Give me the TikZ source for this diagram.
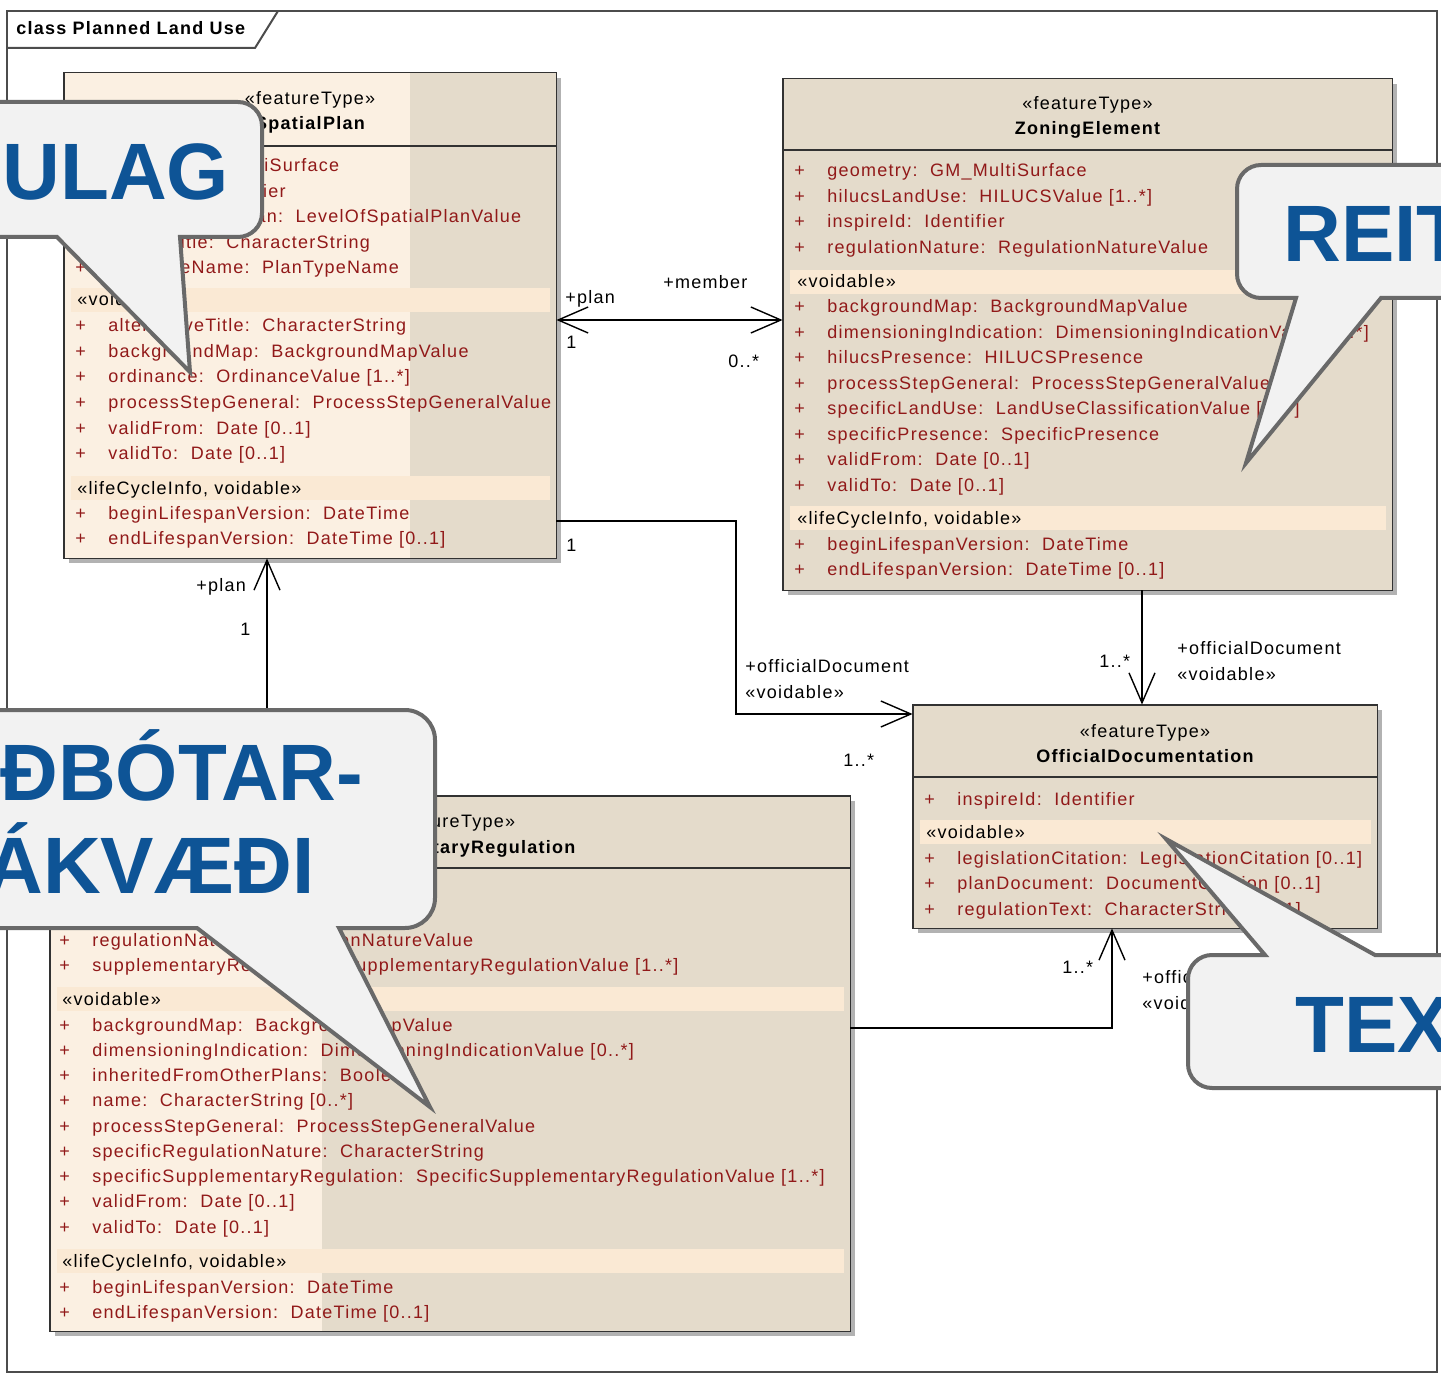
\documentclass[tikz,border=0pt]{standalone}
\usepackage{fontspec}
\setmainfont{Liberation Sans}
\newfontfamily\umlfont[LetterSpace=7]{Liberation Sans}
\usepackage{xcolor}
\usetikzlibrary{fit,arrows.meta,shadows}
\newcommand{\umlsize}{\fontsize{9}{11}\selectfont}
\newcommand{\attrmark}{\makebox[16.5pt][l]{+}}
\tikzstyle{attr} = [anchor=base west, inner sep=0pt, text=attr text, font=\umlfont\umlsize]
\tikzstyle{section} = [anchor=base west, inner sep=0pt, font=\umlfont\umlsize]
\tikzstyle{rolename} = [anchor=base west, inner sep=0pt, font=\umlfont\umlsize]
\tikzset{classbox/.style={fill=class area, draw=none, inner sep=0pt,
        drop shadow={shadow xshift=2.5pt, shadow yshift=-2.5pt, fill=black!30, opacity=1}},
    classline/.style={draw=class edge, line width=0.9pt},
    stereo/.style={anchor=base, inner sep=0pt, font=\umlfont\umlsize},
    classname/.style={anchor=base, inner sep=0pt, font=\umlfont\umlsize\bfseries},
    assoc/.style={draw=black, line width=0.7pt, >={Straight Barb[length=15pt,width=13pt]}},
    notebox/.style={fill=note area, draw=note edge, line width=2pt},
    notetext/.style={anchor=base west, inner sep=0pt, text=note text, font=\fontsize{40}{46}\selectfont\bfseries}}

\begin{document}
\begin{tikzpicture}[x=0.5pt, y=-0.5pt]
    % Definition of colours
    \definecolor{class area}{RGB}{228,219,203}
    \definecolor{light area}{RGB}{251,240,226}
    \definecolor{band area}{RGB}{250,233,212}
    \definecolor{class edge}{RGB}{50,50,50}
    \definecolor{attr text}{RGB}{145,25,25}
    \definecolor{note area}{RGB}{242,242,242}
    \definecolor{note edge}{RGB}{105,105,105}
    \definecolor{note text}{RGB}{14,84,150}
    \useasboundingbox (0,0) rectangle (1441,1375);
    \clip (0,0) rectangle (1441,1375);
    %
    % Frame
    \draw[black!70, line width=1pt] (7,11) rectangle (1437,1372);
    \draw[black!70, line width=1pt] (7,48) -- (255,48) -- (278,11);
    \node[section, font=\umlfont\umlsize\bfseries] (title) at (16,35) {class Planned Land Use};
    %
    % SpatialPlan
    \node[classbox, fit={(64,73) (556,558)}] (plan) {};
    \fill[light area] (plan.north west) rectangle (410,558);
    \fill[band area] (71,288) rectangle (550,312);
    \fill[band area] (71,476) rectangle (550,500);
    \draw[classline] (plan.north west) rectangle (plan.south east);
    \draw[classline] (plan.west |- 0,146) -- (plan.east |- 0,146);
    \node[stereo] (plan-st) at (plan.north |- 0,105) {«featureType»};
    \node[classname] (plan-nm) at (plan.north |- 0,130) {SpatialPlan};
    \foreach \txt [count=\i from 0] in {{extent:~~GM\_MultiSurface}, {inspireId:~~Identifier},
        {levelOfSpatialPlan:~~LevelOfSpatialPlanValue}, {officialTitle:~~CharacterString},
        {planTypeName:~~PlanTypeName}}
        \node[attr] (plan-a\i) at (75,172+25.5*\i) {\attrmark\txt};
    \node[section] (plan-s1) at (77,306) {«voidable»};
    \foreach \txt [count=\i from 0] in {{alternativeTitle:~~CharacterString}, {backgroundMap:~~BackgroundMapValue},
        {ordinance:~~OrdinanceValue [1..*]}, {processStepGeneral:~~ProcessStepGeneralValue},
        {validFrom:~~Date [0..1]}, {validTo:~~Date [0..1]}}
        \node[attr] (plan-b\i) at (75,332+25.5*\i) {\attrmark\txt};
    \node[section] (plan-s2) at (77,494) {«lifeCycleInfo, voidable»};
    \foreach \txt [count=\i from 0] in {{beginLifespanVersion:~~DateTime}, {endLifespanVersion:~~DateTime [0..1]}}
        \node[attr] (plan-c\i) at (75,519+25.5*\i) {\attrmark\txt};
    %
    % ZoningElement
    \node[classbox, fit={(783,79) (1392,590)}] (zone) {};
    \fill[band area] (790,270) rectangle (1386,294);
    \fill[band area] (790,506) rectangle (1386,530);
    \draw[classline] (zone.north west) rectangle (zone.south east);
    \draw[classline] (zone.west |- 0,150) -- (zone.east |- 0,150);
    \node[stereo] (zone-st) at (zone.north |- 0,110) {«featureType»};
    \node[classname] (zone-nm) at (zone.north |- 0,135) {ZoningElement};
    \foreach \txt [count=\i from 0] in {{geometry:~~GM\_MultiSurface}, {hilucsLandUse:~~HILUCSValue [1..*]},
        {inspireId:~~Identifier}, {regulationNature:~~RegulationNatureValue}}
        \node[attr] (zone-a\i) at (794,177+25.5*\i) {\attrmark\txt};
    \node[section] (zone-s1) at (797,288) {«voidable»};
    \foreach \txt [count=\i from 0] in {{backgroundMap:~~BackgroundMapValue},
        {dimensioningIndication:~~DimensioningIndicationValue [0..*]}, {hilucsPresence:~~HILUCSPresence},
        {processStepGeneral:~~ProcessStepGeneralValue}, {specificLandUse:~~LandUseClassificationValue [0..*]},
        {specificPresence:~~SpecificPresence}, {validFrom:~~Date [0..1]}, {validTo:~~Date [0..1]}}
        \node[attr] (zone-b\i) at (794,313+25.5*\i) {\attrmark\txt};
    \node[section] (zone-s2) at (797,524) {«lifeCycleInfo, voidable»};
    \foreach \txt [count=\i from 0] in {{beginLifespanVersion:~~DateTime}, {endLifespanVersion:~~DateTime [0..1]}}
        \node[attr] (zone-c\i) at (794,550+25.5*\i) {\attrmark\txt};
    %
    % OfficialDocumentation
    \node[classbox, fit={(913,705) (1377,928)}] (doc) {};
    \fill[band area] (920,820) rectangle (1371,844);
    \draw[classline] (doc.north west) rectangle (doc.south east);
    \draw[classline] (doc.west |- 0,777) -- (doc.east |- 0,777);
    \node[stereo] (doc-st) at (doc.north |- 0,737) {«featureType»};
    \node[classname] (doc-nm) at (doc.north |- 0,762) {OfficialDocumentation};
    \node[attr] (doc-a0) at (924,805) {\attrmark inspireId:~~Identifier};
    \node[section] (doc-s1) at (926,838) {«voidable»};
    \foreach \txt [count=\i from 0] in {{legislationCitation:~~LegislationCitation [0..1]},
        {planDocument:~~DocumentCitation [0..1]}, {regulationText:~~CharacterString [0..1]}}
        \node[attr] (doc-b\i) at (924,864+25.5*\i) {\attrmark\txt};
    %
    % SupplementaryRegulation
    \node[classbox, fit={(50,796) (850,1331)}] (supp) {};
    \fill[light area] (supp.north west) rectangle (322,1331);
    \fill[band area] (57,987) rectangle (844,1011);
    \fill[band area] (57,1249) rectangle (844,1273);
    \draw[classline] (supp.north west) rectangle (supp.south east);
    \draw[classline] (supp.west |- 0,868) -- (supp.east |- 0,868);
    \node[stereo] (supp-st) at (supp.north |- 0,827) {«featureType»};
    \node[classname] (supp-nm) at (supp.north |- 0,853) {SupplementaryRegulation};
    \foreach \txt [count=\i from 0] in {{regulationNature:~~RegulationNatureValue},
        {supplementaryRegulation:~~SupplementaryRegulationValue [1..*]}}
        \node[attr] (supp-a\i) at (59,946+25.5*\i) {\attrmark\txt};
    \node[section] (supp-s1) at (62,1005) {«voidable»};
    \foreach \txt [count=\i from 0] in {{backgroundMap:~~BackgroundMapValue},
        {dimensioningIndication:~~DimensioningIndicationValue [0..*]}, {inheritedFromOtherPlans:~~Boolean},
        {name:~~CharacterString [0..*]}, {processStepGeneral:~~ProcessStepGeneralValue},
        {specificRegulationNature:~~CharacterString},
        {specificSupplementaryRegulation:~~SpecificSupplementaryRegulationValue [1..*]},
        {validFrom:~~Date [0..1]}, {validTo:~~Date [0..1]}}
        \node[attr] (supp-b\i) at (59,1031+25.25*\i) {\attrmark\txt};
    \node[section] (supp-s2) at (62,1267) {«lifeCycleInfo, voidable»};
    \foreach \txt [count=\i from 0] in {{beginLifespanVersion:~~DateTime}, {endLifespanVersion:~~DateTime [0..1]}}
        \node[attr] (supp-c\i) at (59,1293+25.5*\i) {\attrmark\txt};
    %
    % Associations
    \draw[assoc, <->] (plan.east |- 0,320) -- (zone.west |- 0,320);
    \draw[assoc, ->] (plan.east |- 0,521) -| (736,714) -- (doc.west |- 0,714);
    \draw[assoc, ->] (zone.south -| 1142,0) -- (doc.north -| 1142,0);
    \draw[assoc, ->] (supp.east |- 0,1028) -| (doc.south -| 1112,0);
    \draw[assoc, ->] (supp.north -| 267,0) -- (plan.south -| 267,0);
    \node[rolename] (r-plan1) at (565,304) {+plan};
    \node[rolename] (r-one1) at (566,349) {1};
    \node[rolename] (r-member) at (663,289) {+member};
    \node[rolename] (r-many1) at (728,368) {0..*};
    \node[rolename] (r-one2) at (566,551) {1};
    \node[rolename] (r-doc1) at (745,672) {+officialDocument};
    \node[rolename] (r-void1) at (745,698) {«voidable»};
    \node[rolename] (r-many2) at (843,766) {1..*};
    \node[rolename] (r-many3) at (1099,667) {1..*};
    \node[rolename] (r-doc2) at (1177,654) {+officialDocument};
    \node[rolename] (r-void2) at (1177,680) {«voidable»};
    \node[rolename] (r-many4) at (1062,973) {1..*};
    \node[rolename] (r-doc3) at (1142,983) {+officialDocument};
    \node[rolename] (r-void3) at (1142,1009) {«voidable»};
    \node[rolename] (r-plan2) at (196,591) {+plan};
    \node[rolename] (r-one3) at (240,635) {1};
    %
    % Call-outs
    \draw[notebox] (180,237) -- (190,372) -- (57,237) -- (-40,237) -- (-40,102)
        [rounded corners=12pt] -- (262,102) -- (262,237) [sharp corners] -- cycle;
    \node[notetext] (ulag) at (2,200) {ULAG};
    \draw[notebox] (1296,298) -- (1246,463) -- (1381,298) -- (1480,298) -- (1480,165)
        [rounded corners=12pt] -- (1237,165) -- (1237,298) [sharp corners] -- cycle;
    \node[notetext] (reit) at (1283,262) {REIT};
    \draw[notebox] (197,928) -- (-40,928) -- (-40,710)
        [rounded corners=15pt] -- (435,710) -- (435,928) [sharp corners] -- (339,928) -- (430,1107) -- cycle;
    \node[notetext] (botar) at (0,800) {ÐBÓTAR-};
    \node[notetext] (akvaedi) at (-15,893) {ÁKVÆÐI};
    \draw[notebox] (1375,955) -- (1480,955) -- (1480,1088)
        [rounded corners=12pt] -- (1188,1088) -- (1188,955) [sharp corners] -- (1265,955) -- (1166,839) -- cycle;
    \node[notetext] (tex) at (1295,1052) {TEX};
\end{tikzpicture}
\end{document}
